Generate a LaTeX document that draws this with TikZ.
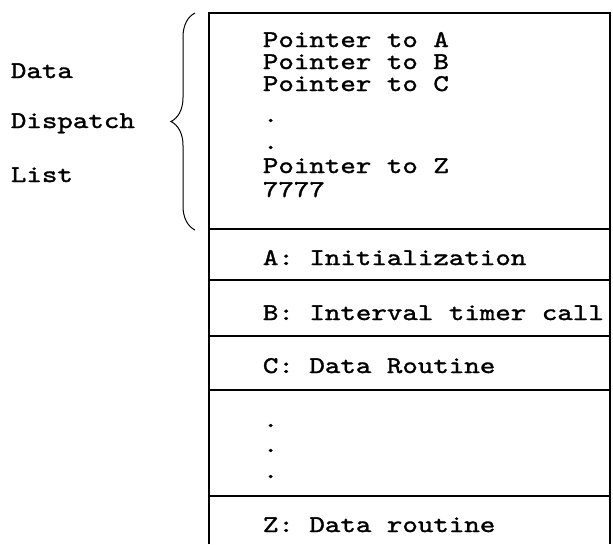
\documentclass[tikz,border=0pt]{standalone}
\usepackage{fontspec}
\setmonofont{lmmono10-regular.otf}[FakeStretch=1.23,FakeBold=1.4]
\usepackage{tikz}
\usetikzlibrary{decorations.pathreplacing}
\tikzset{txt/.style={anchor=base west,inner sep=0pt,font=\ttfamily\fontsize{24}{22}\selectfont}}

\begin{document}
\begin{tikzpicture}[x=1pt,y=-1pt,line width=1.8pt]
        \useasboundingbox (0,0) rectangle (613,544);
        % memory block
        \draw (209,544) -- (209,13) -- (610,13) -- (610,544);
        \foreach \y in {229,280,336,390,496}
            \draw (209,\y) -- (610,\y);
        % dispatch list
        \node[txt] (pa) at (262,47) {Pointer to A};
        \node[txt] (pb) at (262,69) {Pointer to B};
        \node[txt] (pc) at (262,91) {Pointer to C};
        \node[txt] (d1) at (262,122) {.};
        \node[txt] (d2) at (262,149) {.};
        \node[txt] (pz) at (262,173) {Pointer to Z};
        \node[txt] (end) at (262,197) {7777};
        % routines
        \node[txt] (ra) at (262,265) {A: Initialization};
        \node[txt] (rb) at (262,320) {B: Interval timer call};
        \node[txt] (rc) at (262,373) {C: Data Routine};
        \node[txt] (d3) at (262,427) {.};
        \node[txt] (d4) at (262,452) {.};
        \node[txt] (d5) at (262,478) {.};
        \node[txt] (rz) at (262,532) {Z: Data routine};
        % label
        \node[txt] (l1) at (10,78) {Data};
        \node[txt] (l2) at (10,128) {Dispatch};
        \node[txt] (l3) at (10,182) {List};
        \draw[line width=1pt,decorate,decoration={brace,amplitude=24pt}] (195,230) -- (195,13);
    \end{tikzpicture}
\end{document}
